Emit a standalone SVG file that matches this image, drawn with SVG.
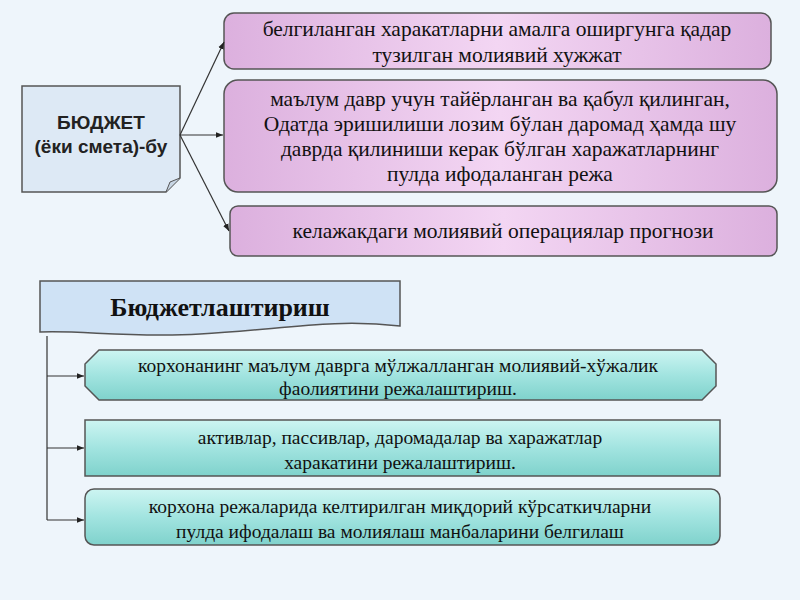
<svg xmlns="http://www.w3.org/2000/svg" width="800" height="600" viewBox="0 0 800 600">
<defs>
<linearGradient id="pk" x1="0" y1="0" x2="1" y2="0"><stop offset="0" stop-color="#dcb0de"/><stop offset="0.5" stop-color="#f3d6f3"/><stop offset="1" stop-color="#dcb0de"/></linearGradient>
<linearGradient id="tl" x1="0" y1="0" x2="0" y2="1"><stop offset="0" stop-color="#cdf5f2"/><stop offset="0.5" stop-color="#a2e4e0"/><stop offset="1" stop-color="#7fd2cc"/></linearGradient>
<marker id="ar" viewBox="0 0 10 10" refX="10" refY="5" markerWidth="6" markerHeight="6" orient="auto"><path d="M0,1 L10,5 L0,9 z" fill="#222"/></marker>
<style>
.t{font-family:"Liberation Serif",serif;font-size:21.5px;fill:#111;text-anchor:middle}
.s{font-size:19.5px}
.pk{fill:url(#pk);stroke:#555;stroke-width:1.5}
.tl{fill:url(#tl);stroke:#555;stroke-width:1.5}
.c{stroke:#333;stroke-width:1.2;fill:none;marker-end:url(#ar)}
</style>
</defs>
<rect width="800" height="600" fill="#eef5fb"/>
<g id="budget">
<path d="M22,86 H180 V178 L166,192 H22 Z" fill="#dde9f5" stroke="#555" stroke-width="1.5"/>
<path d="M166,192 L170,182 L180,178" fill="#c8d6e4" stroke="#555"/>
<text x="101" y="129" font-family="Liberation Sans,sans-serif" font-weight="bold" font-size="19" text-anchor="middle" fill="#222">БЮДЖЕТ</text>
<text x="101" y="153" font-family="Liberation Sans,sans-serif" font-weight="bold" font-size="19" text-anchor="middle" fill="#222">(ёки смета)-бу</text>
</g>
<g id="b1"><rect x="224" y="13" width="547" height="56" rx="10" class="pk"/>
<text class="t" x="497" y="36">белгиланган харакатларни амалга оширгунга қадар</text>
<text class="t" x="497" y="62">тузилган молиявий хужжат</text></g>
<g id="b2"><rect x="224" y="80" width="553" height="112" rx="14" class="pk"/>
<text class="t" x="500" y="106">маълум давр учун тайёрланган ва қабул қилинган,</text>
<text class="t" x="500" y="131">Одатда  эришилиши лозим бўлан даромад ҳамда шу</text>
<text class="t" x="500" y="156">даврда қилиниши керак бўлган харажатларнинг</text>
<text class="t" x="500" y="181">пулда ифодаланган режа</text></g>
<g id="b3"><rect x="230" y="206" width="547" height="50" rx="8" class="pk"/>
<text class="t" x="503" y="238">келажакдаги молиявий операциялар прогнози</text></g>
<g id="banner">
<path d="M40,281 H400 V326 C330,318 280,330 200,334 C130,338 80,330 40,332 Z" fill="#cfe2f5" stroke="#555" stroke-width="1.5"/>
<text x="220" y="316" font-family="Liberation Serif,serif" font-weight="bold" font-size="26" text-anchor="middle" fill="#111">Бюджетлаштириш</text>
</g>
<g id="c1"><path d="M99,350 H702 L716,364 V386 L702,400 H99 L85,386 V364 Z" class="tl"/>
<text class="t s" x="398" y="372">корхонанинг маълум даврга мўлжалланган молиявий-хўжалик</text>
<text class="t s" x="398" y="395">фаолиятини режалаштириш.</text></g>
<g id="c2"><rect x="85" y="420" width="635" height="56" class="tl"/>
<text class="t s" x="400" y="444">активлар, пассивлар, даромадалар ва харажатлар</text>
<text class="t s" x="400" y="469">харакатини режалаштириш.</text></g>
<g id="c3"><rect x="85" y="489" width="635" height="56" rx="9" class="tl"/>
<text class="t s" x="400" y="513">корхона режаларида келтирилган миқдорий кўрсаткичларни</text>
<text class="t s" x="400" y="538">пулда ифодалаш ва молиялаш манбаларини белгилаш</text></g>
<g id="connectors">
<path class="c" d="M180,135 L224,42"/>
<path class="c" d="M180,135 L223,135"/>
<path class="c" d="M180,135 L229,231"/>
<path d="M47,336 V520" stroke="#333" stroke-width="1.2" fill="none"/>
<path class="c" d="M47,376 H84"/>
<path class="c" d="M47,448 H84"/>
<path class="c" d="M47,520 H84"/>
</g>
</svg>
